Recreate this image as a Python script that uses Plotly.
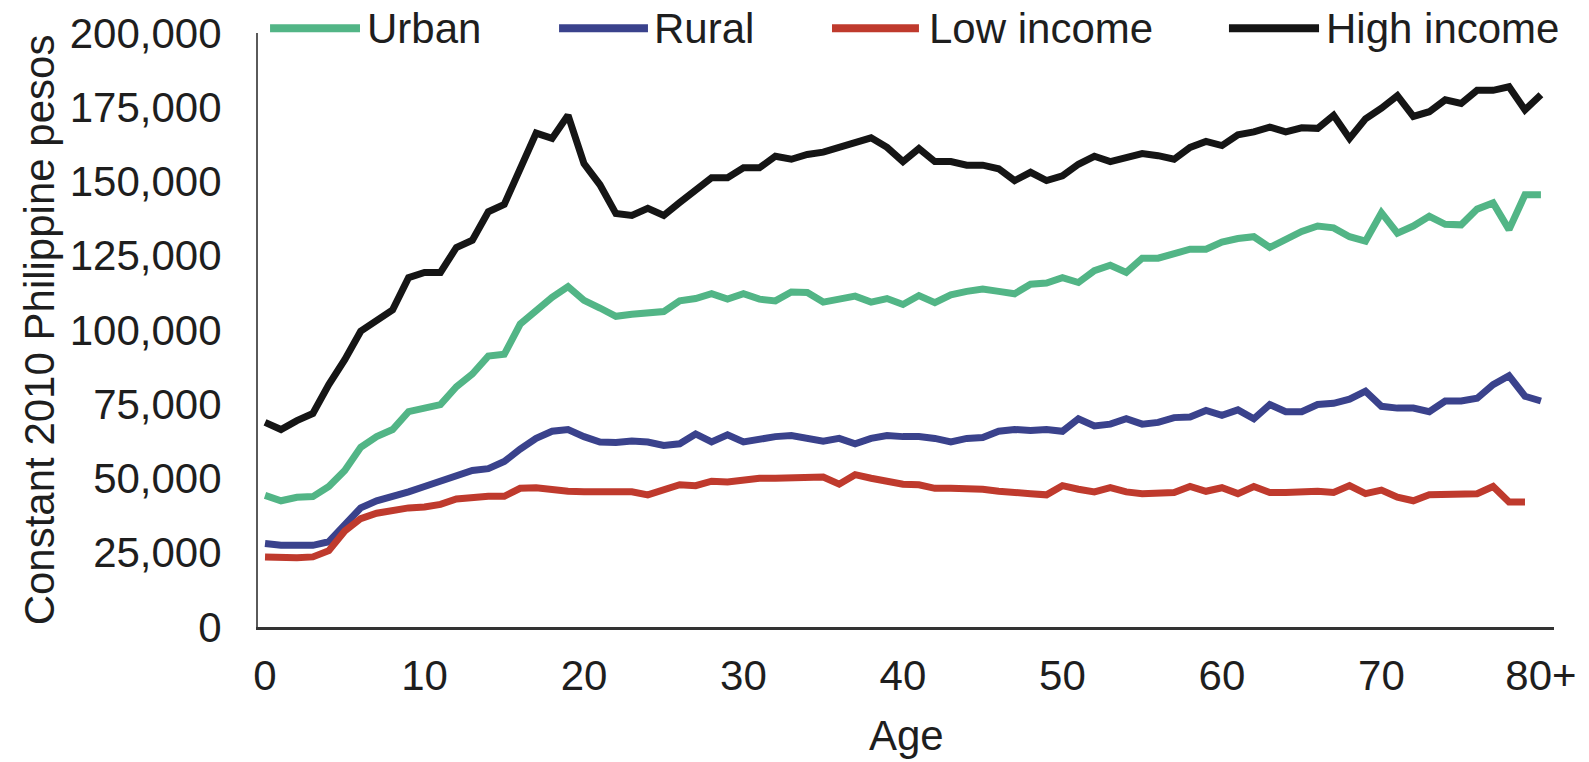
import plotly.graph_objects as go

ages = list(range(81))
tick_vals = [0, 10, 20, 30, 40, 50, 60, 70, 80]
tick_text = ["0", "10", "20", "30", "40", "50", "60", "70", "80+"]
y_ticks = [0, 25000, 50000, 75000, 100000, 125000, 150000, 175000, 200000]

urban = [44.3, 42.5, 43.7, 43.9, 47.3, 52.7, 60.5, 64.1, 66.5, 72.5,
         73.7, 74.9, 80.9, 85.2, 91.2, 91.8, 102.0, 106.8, 111.0, 114.6,
         110.0, 107.4, 104.6, 105.3, 105.8, 106.2, 109.8, 110.6, 112.2, 110.4,
         112.2, 110.4, 109.8, 112.8, 112.6, 109.4, 110.4, 111.4, 109.4, 110.6,
         108.6, 111.6, 109.2, 111.8, 113.0, 113.8, 113.0, 112.2, 115.4, 115.8,
         117.6, 116.0, 120.0, 121.8, 119.4, 124.2, 124.2, 126.0, 127.2, 127.2,
         129.6, 130.8, 131.4, 127.8, 130.8, 133.2, 135.0, 134.4, 131.4, 129.9,
         139.5, 132.6, 135.0, 138.3, 135.6, 135.4, 140.7, 142.8, 133.8, 145.5, 145.5]

rural = [28.1, 27.5, 27.5, 27.5, 28.7, 34.7, 40.1, 42.5, 43.7, 45.5,
         47.3, 49.1, 50.9, 52.7, 53.3, 55.7, 59.9, 63.5, 65.9, 66.5,
         64.1, 62.3, 62.1, 62.6, 62.3, 61.1, 61.7, 65.0, 62.3, 64.7,
         62.3, 63.5, 64.1, 64.5, 63.8, 62.6, 63.5, 61.7, 63.5, 64.5,
         64.1, 64.1, 63.5, 62.3, 63.5, 63.8, 65.9, 66.5, 66.2, 66.5,
         65.9, 70.1, 67.7, 68.3, 70.1, 68.3, 68.9, 70.5, 70.7, 72.9,
         71.3, 73.1, 70.1, 74.9, 72.5, 72.5, 74.9, 75.3, 76.7, 79.4,
         74.3, 73.7, 73.7, 72.5, 76.1, 76.1, 77.0, 81.6, 84.6, 77.7, 76.1]

low_income = [23.6, 23.3, 23.3, 23.6, 25.7, 32.3, 36.5, 38.3, 39.2, 40.1,
              40.4, 41.3, 43.1, 43.7, 44.0, 44.0, 46.7, 46.9, 46.1, 45.7,
              45.5, 45.5, 45.5, 45.5, 44.5, 46.1, 47.9, 47.6, 49.1, 48.8,
              49.7, 50.1, 50.1, 50.1, 50.1, 50.5, 48.1, 51.3, 50.1, 49.1,
              48.1, 47.9, 46.7, 46.7, 46.7, 46.4, 45.7, 45.5, 44.9, 44.5,
              47.6, 46.4, 45.5, 46.9, 45.5, 44.9, 44.9, 45.3, 47.3, 45.7,
              46.9, 44.9, 47.3, 45.3, 45.3, 45.5, 45.7, 45.3, 47.6, 44.9,
              46.1, 43.7, 42.5, 44.5, 44.5, 44.8, 44.9, 47.3, 42.1, 42.1, None]

high_income = [68.9, 66.5, 69.5, 71.9, 81.6, 90.0, 99.6, 103.0, 106.8, 117.6,
               119.4, 119.4, 127.8, 130.2, 139.8, 142.3, 154.9, 166.3, 164.5, 172.3,
               156.0, 148.9, 139.2, 138.6, 141.0, 138.6, 142.9, 147.0, 151.3, 151.3,
               154.6, 154.6, 158.5, 157.5, 159.1, 159.9, 161.5, 162.7, 164.7, 161.5,
               156.7, 161.1, 156.7, 156.7, 155.5, 155.5, 154.3, 150.3, 153.1, 150.3,
               151.9, 155.8, 158.5, 156.7, 157.9, 159.4, 158.7, 157.5, 161.5, 163.5,
               162.1, 165.7, 166.7, 168.3, 166.7, 168.1, 167.9, 172.3, 164.5, 171.1,
               174.7, 178.9, 171.9, 173.5, 177.5, 176.3, 180.7, 180.7, 181.9, 174.1, 179.2]

series = [
    ("Urban", urban, "#52b586"),
    ("Rural", rural, "#3a428c"),
    ("Low income", low_income, "#bf3a2d"),
    ("High income", high_income, "#151515"),
]

FONT = "Liberation Sans, Arial, sans-serif"
TXT = "#1e1e1e"

fig = go.Figure()
for name, vals, color in series:
    fig.add_trace(go.Scatter(
        x=ages,
        y=[None if v is None else v * 1000 for v in vals],
        mode="lines", name=name,
        line=dict(color=color, width=7),
        showlegend=False,
    ))

# custom legend (long line swatches like the original)
legend_pos = [(0.0093, 0.0787, 0.0826), (0.2323, 0.3009, 0.3040),
              (0.4429, 0.5100, 0.5162), (0.7492, 0.8187, 0.8225)]
leg_y = 1.0080
for (name, vals, color), (x0, x1, xt) in zip(series, legend_pos):
    fig.add_shape(type="line", xref="paper", yref="paper",
                  x0=x0, x1=x1, y0=leg_y, y1=leg_y,
                  line=dict(color=color, width=8))
    fig.add_annotation(xref="paper", yref="paper", x=xt, y=leg_y,
                       xanchor="left", yanchor="middle", showarrow=False,
                       text=name, font=dict(family=FONT, size=42, color=TXT))

# x-axis title placed like the original
fig.add_annotation(xref="paper", yref="paper", x=0.5, y=-0.140,
                   xanchor="center", yanchor="top", showarrow=False,
                   text="Age", font=dict(family=FONT, size=42, color=TXT))

fig.update_layout(
    width=1589, height=762,
    margin=dict(l=258, r=35, t=33, b=135),
    paper_bgcolor="white", plot_bgcolor="white",
    font=dict(family=FONT, size=42, color=TXT),
)
fig.update_xaxes(
    range=[-0.44, 80.82], automargin=False,
    tickvals=tick_vals, ticktext=tick_text,
    showgrid=False, zeroline=False,
    showline=True, linecolor="#333333", linewidth=3,
    ticks="", ticklabelstandoff=10,
    tickfont=dict(family=FONT, size=42, color=TXT),
)
fig.update_yaxes(
    range=[0, 200000], automargin=False,
    tickvals=y_ticks, tickformat=",d",
    showgrid=False, zeroline=False,
    showline=True, linecolor="#5a5a5a", linewidth=2,
    ticks="", ticklabelstandoff=26,
    tickfont=dict(family=FONT, size=42, color=TXT),
    title=dict(text="Constant 2010 Philippine pesos",
               font=dict(family=FONT, size=42, color=TXT), standoff=2),
)

fig.write_html("out.html", config={"displayModeBar": False},
               post_script="document.body.style.margin='0px';")
